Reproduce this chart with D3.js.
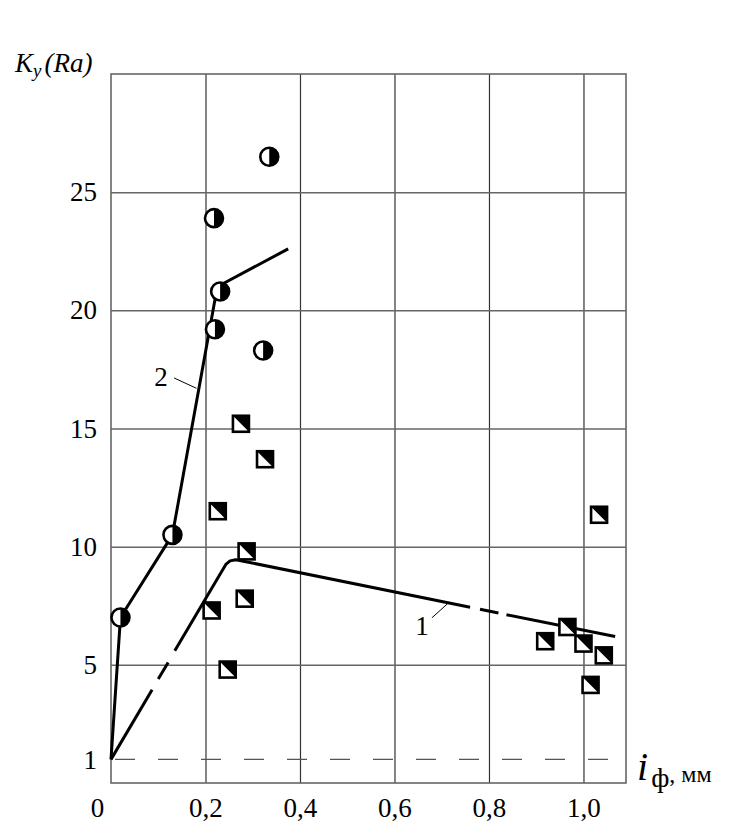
<!DOCTYPE html>
<html>
<head>
<meta charset="utf-8">
<script src="https://cdn.jsdelivr.net/npm/d3@7"></script>
<style>
  body { margin: 0; background: #fff; }
  svg { display: block; }
</style>
</head>
<body>
<svg id="chart" width="731" height="828"></svg>
<script>
// ===================================
// Data
// ===================================

const xTicks = [0, 0.2, 0.4, 0.6, 0.8, 1.0];
const xTickLabels = ['0', '0,2', '0,4', '0,6', '0,8', '1,0'];
const yTicks = [1, 5, 10, 15, 20, 25];
const yGrid = [5, 10, 15, 20, 25];

// half-filled circles (series 2)
const circleX = [0.020, 0.130, 0.220, 0.231, 0.218, 0.335, 0.322];
const circleY = [7.0, 10.5, 19.2, 20.8, 23.9, 26.5, 18.3];

// half-filled squares (series 1)
const squareX = [0.275, 0.326, 0.226, 0.287, 0.283, 0.213, 0.247, 0.919, 0.966, 1.000, 1.043, 1.015, 1.033];
const squareY = [15.2, 13.7, 11.5, 9.8, 7.8, 7.3, 4.8, 6.0, 6.6, 5.9, 5.4, 4.15, 11.35];

// curve 2 (solid)
const line2X = [0, 0.020, 0.130, 0.225, 0.375];
const line2Y = [1, 7.0, 10.5, 21.0, 22.6];

// curve 1, drawn in pieces (gaps between pieces form the dashes)
const line1Pieces = [
  [[0, 1], [0.087, 3.95]],
  [[0.100, 4.4], [0.121, 5.1]],
  [[0.135, 5.6], [0.243, 9.25], [0.252, 9.4], [0.264, 9.45], [0.760, 7.44]],
  [[0.781, 7.35], [0.820, 7.19]],
  [[0.837, 7.12], [1.067, 6.2]]
];

// reference level K = 1
const baseLevel = 1;

// curve labels: text, label position, leader start offset (px), leader end
const curveLabels = [
  { t: '2', lx: 0.106, ly: 16.8, ox: 13, oy: -8, ex: 0.181, ey: 16.7 },
  { t: '1', lx: 0.658, ly: 6.27, ox: 10, oy: -17, ex: 0.712, ey: 7.58 }
];

const serif = '"Liberation Serif", "DejaVu Serif", "Times New Roman", serif';

// ===================================
// Scales
// ===================================

const svg = d3.select('#chart');
const plotLeft = 111, plotRight = 626, plotTop = 74, plotBottom = 783;

const x = d3.scaleLinear().domain([0, 1.09]).range([plotLeft, plotRight]);
const y = d3.scaleLinear().domain([0, 30]).range([plotBottom, plotTop]);

// ===================================
// Grid and frame
// ===================================

svg.append('g')
  .attr('transform', `translate(0,${plotBottom})`)
  .call(d3.axisBottom(x).tickValues(xTicks.slice(1)).tickSize(-(plotBottom - plotTop)).tickFormat(''))
  .call(g => g.select('.domain').remove())
  .call(g => g.selectAll('line').attr('stroke', '#333').attr('stroke-width', 1.2));

svg.append('g')
  .attr('transform', `translate(${plotLeft},0)`)
  .call(d3.axisLeft(y).tickValues(yGrid).tickSize(-(plotRight - plotLeft)).tickFormat(''))
  .call(g => g.select('.domain').remove())
  .call(g => g.selectAll('line').attr('stroke', '#666').attr('stroke-width', 1.5));

svg.append('line')
  .attr('x1', x(0)).attr('x2', x(1.09))
  .attr('y1', y(baseLevel)).attr('y2', y(baseLevel))
  .attr('stroke', '#555').attr('stroke-width', 1.3)
  .attr('stroke-dasharray', '20,23').attr('stroke-dashoffset', -4);

svg.append('rect')
  .attr('x', plotLeft).attr('y', plotTop)
  .attr('width', plotRight - plotLeft).attr('height', plotBottom - plotTop)
  .attr('fill', 'none').attr('stroke', '#666').attr('stroke-width', 1.6);

// ===================================
// Tick labels
// ===================================

svg.append('g')
  .attr('transform', `translate(0,${plotBottom})`)
  .call(d3.axisBottom(x).tickValues(xTicks).tickSize(0).tickPadding(15)
    .tickFormat((d, i) => xTickLabels[i]))
  .attr('font-family', serif).attr('font-size', 27)
  .call(g => g.select('.domain').remove())
  .call(g => g.selectAll('.tick').filter(d => d === 0).select('text').attr('dx', -14));

svg.append('g')
  .attr('transform', `translate(${plotLeft},0)`)
  .call(d3.axisLeft(y).tickValues(yTicks).tickSize(0).tickPadding(14))
  .attr('font-family', serif).attr('font-size', 27)
  .call(g => g.select('.domain').remove());

svg.selectAll('.tick text').attr('fill', '#000');

// ===================================
// Curves
// ===================================

const line = d3.line().x(d => x(d[0])).y(d => y(d[1]));

svg.append('path')
  .attr('d', line(line2X.map((v, i) => [v, line2Y[i]])))
  .attr('fill', 'none').attr('stroke', '#000').attr('stroke-width', 3)
  .attr('stroke-linejoin', 'round');

svg.selectAll('.piece1')
  .data(line1Pieces)
  .join('path')
  .attr('class', 'piece1')
  .attr('d', line)
  .attr('fill', 'none').attr('stroke', '#000').attr('stroke-width', 3)
  .attr('stroke-linejoin', 'round');

// curve labels with leader lines
curveLabels.forEach(c => {
  svg.append('text')
    .attr('x', x(c.lx)).attr('y', y(c.ly))
    .attr('text-anchor', 'middle')
    .attr('font-family', serif)
    .attr('font-size', 27)
    .text(c.t);
  svg.append('line')
    .attr('x1', x(c.lx) + c.ox).attr('y1', y(c.ly) + c.oy)
    .attr('x2', x(c.ex)).attr('y2', y(c.ey))
    .attr('stroke', '#000').attr('stroke-width', 1);
});

// ===================================
// Markers
// ===================================

const r = 9;
const halfArc = d3.arc().innerRadius(0).outerRadius(r).startAngle(0).endAngle(Math.PI);

const circles = svg.selectAll('.circ')
  .data(circleX.map((v, i) => [v, circleY[i]]))
  .join('g')
  .attr('class', 'circ')
  .attr('transform', d => `translate(${x(d[0])},${y(d[1])})`);
circles.append('circle').attr('r', r).attr('fill', '#fff');
circles.append('path').attr('d', halfArc()).attr('fill', '#000');
circles.append('circle').attr('r', r).attr('fill', 'none')
  .attr('stroke', '#000').attr('stroke-width', 2.6);

const s = 16, h = s / 2;
const squares = svg.selectAll('.sq')
  .data(squareX.map((v, i) => [v, squareY[i]]))
  .join('g')
  .attr('class', 'sq')
  .attr('transform', d => `translate(${x(d[0])},${y(d[1])})`);
squares.append('rect').attr('x', -h).attr('y', -h).attr('width', s).attr('height', s).attr('fill', '#fff');
squares.append('path').attr('d', `M${-h},${-h}L${h},${-h}L${h},${h}Z`).attr('fill', '#000');
squares.append('rect').attr('x', -h).attr('y', -h).attr('width', s).attr('height', s)
  .attr('fill', 'none').attr('stroke', '#000').attr('stroke-width', 2.6);

// ===================================
// Axis titles
// ===================================

const yTitle = svg.append('text')
  .attr('x', 15).attr('y', 72)
  .attr('font-family', serif)
  .attr('font-style', 'italic')
  .attr('font-size', 27);
yTitle.append('tspan').text('K');
yTitle.append('tspan').attr('dy', 5).attr('font-size', 19).text('y');
yTitle.append('tspan').attr('dy', -5).attr('dx', 3).text('(Ra)');

const xTitle = svg.append('text')
  .attr('x', 637).attr('y', 780)
  .attr('font-family', serif);
xTitle.append('tspan').attr('font-style', 'italic').attr('font-size', 40).text('i');
xTitle.append('tspan').attr('dy', 7).attr('dx', 3).attr('font-size', 28).text('ф');
xTitle.append('tspan').attr('dy', -5).attr('font-size', 24).text(', мм');
</script>
</body>
</html>
